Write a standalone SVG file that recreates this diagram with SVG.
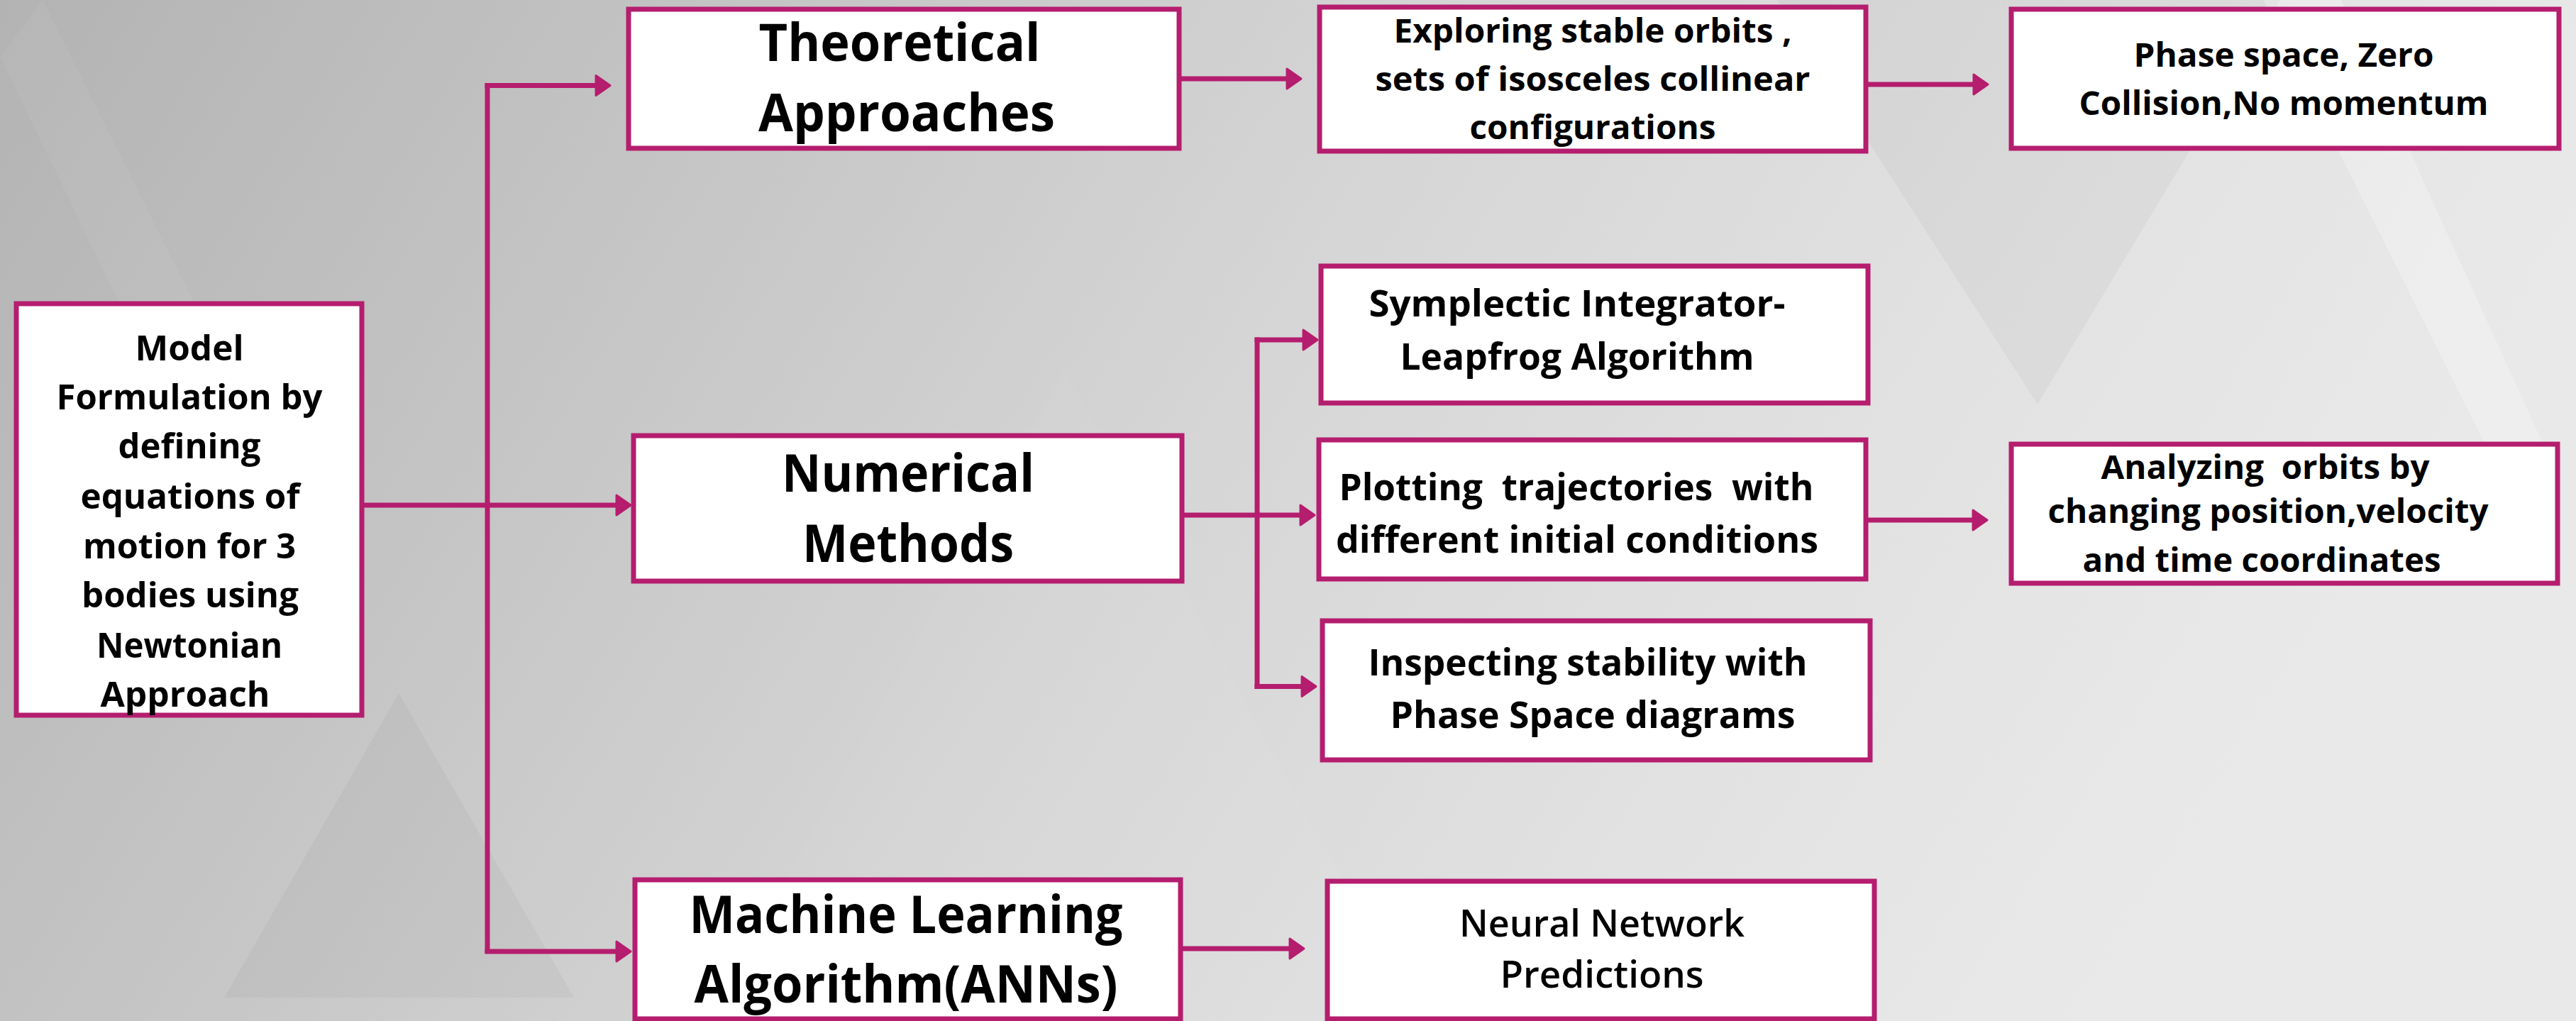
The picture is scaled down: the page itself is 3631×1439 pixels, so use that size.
<svg xmlns="http://www.w3.org/2000/svg" width="3631" height="1439" viewBox="0 0 3631 1439">
<defs>
<linearGradient id="bg" x1="0" y1="0" x2="1" y2="0.25">
<stop offset="0" stop-color="#b3b3b3"/>
<stop offset="0.3" stop-color="#c6c6c6"/>
<stop offset="0.55" stop-color="#d6d6d6"/>
<stop offset="0.8" stop-color="#e2e2e2"/>
<stop offset="1" stop-color="#e9e9e9"/>
</linearGradient>
<marker id="ah" markerUnits="userSpaceOnUse" markerWidth="30" markerHeight="40" refX="10" refY="17" orient="auto" style="overflow:visible">
<path d="M2,3 L22,17 L2,31 Z" fill="#b51d6e" stroke="#b51d6e" stroke-width="3" stroke-linejoin="round"/>
</marker>
<style>
.box{fill:#ffffff;stroke:#b51d6e;stroke-width:7}
.conn{fill:none;stroke:#b51d6e;stroke-width:7}
.arr{marker-end:url(#ah)}
text{font-family:"Open Sans","Liberation Sans",sans-serif;font-weight:700;fill:#000;text-anchor:middle}
.big{font-size:74px}
.med{font-size:46px}
.std{font-size:52px}
.mdl{font-size:49px}
.reg{font-size:53px;font-weight:600}
</style>
</defs>
<rect x="0" y="0" width="3631" height="1439" fill="url(#bg)"/>
<g id="background-shapes">
<polygon points="562,977 316,1406 809,1406" fill="#000" fill-opacity="0.03"/>
<polygon points="2505,0 3214,0 2872,570" fill="#000" fill-opacity="0.035"/>
<polygon points="3190,0 3300,0 3600,660 3540,700" fill="#fff" fill-opacity="0.25"/>
<polygon points="0,80 60,0 420,720 330,760" fill="#fff" fill-opacity="0.05"/>
<polygon points="1000,1439 1500,520 2000,1439" fill="#fff" fill-opacity="0.035"/>
</g>
<g id="connectors">
<path class="conn" d="M687,117 V1344"/>
<path class="conn arr" d="M683.5,120.5 H848"/>
<path class="conn arr" d="M510,712 H877"/>
<path class="conn arr" d="M683.5,1341 H877"/>
<path class="conn arr" d="M1662,111 H1822"/>
<path class="conn arr" d="M2630,119 H2790"/>
<path class="conn" d="M1666,726 H1775.5"/>
<path class="conn" d="M1772,475.5 V971"/>
<path class="conn arr" d="M1768.5,479 H1845"/>
<path class="conn arr" d="M1772,726 H1841"/>
<path class="conn arr" d="M1768.5,967.5 H1843"/>
<path class="conn arr" d="M2630,733 H2789"/>
<path class="conn arr" d="M1664,1337 H1826"/>
</g>
<g id="model">
<rect class="box" x="23" y="428" width="487" height="580"/>
<text class="mdl" x="267" y="508" textLength="153" lengthAdjust="spacingAndGlyphs">Model</text>
<text class="mdl" x="267" y="577" textLength="375" lengthAdjust="spacingAndGlyphs">Formulation by</text>
<text class="mdl" x="267" y="646" textLength="201" lengthAdjust="spacingAndGlyphs">defining</text>
<text class="mdl" x="268" y="717" textLength="309" lengthAdjust="spacingAndGlyphs">equations of</text>
<text class="mdl" x="267" y="787" textLength="300" lengthAdjust="spacingAndGlyphs">motion for 3</text>
<text class="mdl" x="268" y="856" textLength="306" lengthAdjust="spacingAndGlyphs">bodies using</text>
<text class="mdl" x="267" y="927" textLength="262" lengthAdjust="spacingAndGlyphs">Newtonian</text>
<text class="mdl" x="261" y="996" textLength="239" lengthAdjust="spacingAndGlyphs">Approach</text>
</g>
<g id="theoretical">
<rect class="box" x="886" y="13" width="776" height="196"/>
<text class="big" x="1268" y="86" textLength="397" lengthAdjust="spacingAndGlyphs">Theoretical</text>
<text class="big" x="1278" y="185" textLength="418" lengthAdjust="spacingAndGlyphs">Approaches</text>
</g>
<g id="numerical">
<rect class="box" x="893" y="614" width="773" height="205"/>
<text class="big" x="1280" y="693" textLength="356" lengthAdjust="spacingAndGlyphs">Numerical</text>
<text class="big" x="1280" y="792" textLength="298" lengthAdjust="spacingAndGlyphs">Methods</text>
</g>
<g id="ml">
<rect class="box" x="895" y="1240" width="769" height="196"/>
<text class="big" x="1277" y="1315" textLength="611" lengthAdjust="spacingAndGlyphs">Machine Learning</text>
<text class="big" x="1277" y="1413" textLength="597" lengthAdjust="spacingAndGlyphs">Algorithm(ANNs)</text>
</g>
<g id="exploring">
<rect class="box" x="1860" y="10" width="770" height="203"/>
<text class="med" x="2245" y="60" textLength="561" lengthAdjust="spacingAndGlyphs">Exploring stable orbits ,</text>
<text class="med" x="2245" y="128" textLength="613" lengthAdjust="spacingAndGlyphs">sets of isosceles collinear</text>
<text class="med" x="2245" y="196" textLength="347" lengthAdjust="spacingAndGlyphs">configurations</text>
</g>
<g id="phase">
<rect class="box" x="2835" y="13" width="772" height="196"/>
<text class="med" x="3219" y="94" textLength="423" lengthAdjust="spacingAndGlyphs">Phase space, Zero</text>
<text class="med" x="3219" y="162" textLength="577" lengthAdjust="spacingAndGlyphs">Collision,No momentum</text>
</g>
<g id="symplectic">
<rect class="box" x="1862" y="375" width="771" height="193"/>
<text class="std" x="2223" y="446" textLength="587" lengthAdjust="spacingAndGlyphs">Symplectic Integrator-</text>
<text class="std" x="2223" y="521" textLength="499" lengthAdjust="spacingAndGlyphs">Leapfrog Algorithm</text>
</g>
<g id="plotting">
<rect class="box" x="1859" y="620" width="771" height="196"/>
<text class="std" x="2222" y="705" textLength="669" lengthAdjust="spacingAndGlyphs" xml:space="preserve">Plotting  trajectories  with</text>
<text class="std" x="2223" y="779" textLength="680" lengthAdjust="spacingAndGlyphs">different initial conditions</text>
</g>
<g id="inspecting">
<rect class="box" x="1864" y="875" width="772" height="196"/>
<text class="std" x="2238" y="952" textLength="619" lengthAdjust="spacingAndGlyphs">Inspecting stability with</text>
<text class="std" x="2245" y="1026" textLength="571" lengthAdjust="spacingAndGlyphs">Phase Space diagrams</text>
</g>
<g id="analyzing">
<rect class="box" x="2835" y="626" width="770" height="196"/>
<text class="med" x="3193" y="675" textLength="463" lengthAdjust="spacingAndGlyphs" xml:space="preserve">Analyzing  orbits by</text>
<text class="med" x="3197" y="737" textLength="621" lengthAdjust="spacingAndGlyphs">changing position,velocity</text>
<text class="med" x="3188" y="806" textLength="505" lengthAdjust="spacingAndGlyphs">and time coordinates</text>
</g>
<g id="neural">
<rect class="box" x="1871" y="1242" width="771" height="194"/>
<text class="reg" x="2258" y="1320" textLength="402" lengthAdjust="spacingAndGlyphs">Neural Network</text>
<text class="reg" x="2258" y="1392" textLength="287" lengthAdjust="spacingAndGlyphs">Predictions</text>
</g>
</svg>
